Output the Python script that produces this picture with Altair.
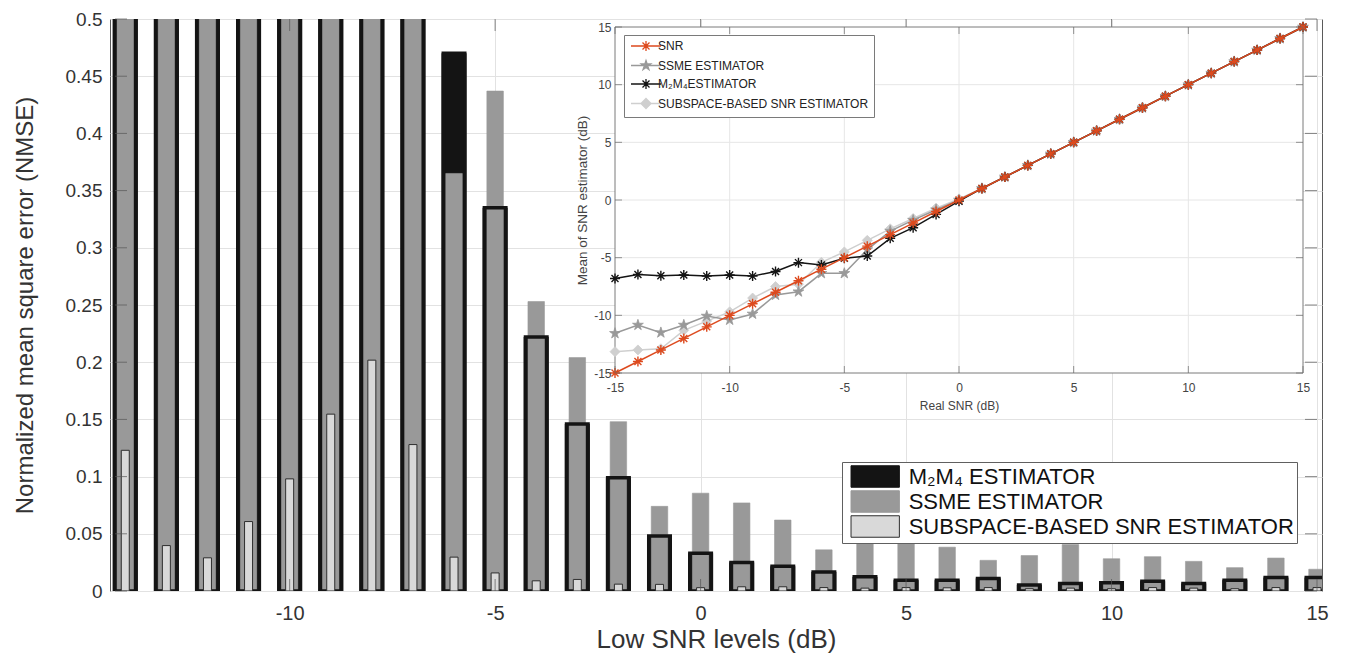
import altair as alt
import pandas as pd

# ---------------- data: main bar chart (NMSE) ----------------
snr_levels = [-14, -13, -12, -11, -10, -9, -8, -7, -6, -5, -4, -3, -2, -1, 0,
              1, 2, 3, 4, 5, 6, 7, 8, 9, 10, 11, 12, 13, 14, 15]
# values at -14..-7 exceed the 0.5 axis limit (clipped in the figure)
m2m4_nmse = [0.6, 0.6, 0.6, 0.6, 0.6, 0.6, 0.6, 0.6, 0.47, 0.335, 0.222, 0.146,
             0.099, 0.048, 0.033, 0.025, 0.0216, 0.0167, 0.0124, 0.0095, 0.0095,
             0.011, 0.0052, 0.0066, 0.0072, 0.0086, 0.0066, 0.0095, 0.0118, 0.0118]
ssme_nmse = [0.6, 0.6, 0.6, 0.6, 0.6, 0.6, 0.6, 0.6, 0.365, 0.437, 0.253, 0.204,
             0.148, 0.074, 0.0855, 0.077, 0.062, 0.036, 0.0417, 0.0426, 0.0383,
             0.0268, 0.031, 0.0406, 0.0282, 0.030, 0.0259, 0.0204, 0.0288, 0.019]
subspace_nmse = [0.123, 0.0397, 0.029, 0.0607, 0.098, 0.1546, 0.2018, 0.128, 0.0296,
                 0.0158, 0.0089, 0.0101, 0.006, 0.0058, 0.0029, 0.0037, 0.0037, 0.003,
                 0.0025, 0.003, 0.0028, 0.003, 0.002, 0.0025, 0.002, 0.003, 0.0025,
                 0.002, 0.003, 0.003]
series_names = ["M₂M₄ ESTIMATOR", "SSME ESTIMATOR", "SUBSPACE-BASED SNR ESTIMATOR"]
main_xticks = [-10, -5, 0, 5, 10, 15]
main_yticks = [0, 0.05, 0.1, 0.15, 0.2, 0.25, 0.3, 0.35, 0.4, 0.45, 0.5]

# ---------------- data: inset (mean of estimator) ----------------
real_snr = [-15, -14, -13, -12, -11, -10, -9, -8, -7, -6, -5, -4, -3, -2, -1, 0,
            1, 2, 3, 4, 5, 6, 7, 8, 9, 10, 11, 12, 13, 14, 15]
snr_mean = [-15, -14, -13, -12, -11, -10, -9, -8, -7, -6, -5, -4, -3, -2, -1, 0,
            1, 2, 3, 4, 5, 6, 7, 8, 9, 10, 11, 12, 13, 14, 15]
ssme_mean = [-11.56, -10.84, -11.5, -10.84, -10.06, -10.4, -9.88, -8.24, -7.95, -6.36,
             -6.36, -4.3, -2.7, -1.75, -0.85, 0, 1, 2, 3, 4, 5, 6, 7, 8, 9, 10, 11,
             12, 13, 14, 15]
m2m4_mean = [-6.8, -6.45, -6.56, -6.5, -6.6, -6.5, -6.6, -6.2, -5.43, -5.64, -5.06,
             -4.86, -3.32, -2.4, -1.25, -0.1, 1, 2, 3, 4, 5, 6, 7, 8, 9, 10, 11, 12,
             13, 14, 15]
subspace_mean = [-13.15, -13.0, -12.9, -11.3, -10.5, -9.7, -8.5, -7.5, -7.3, -5.4,
                 -4.5, -3.5, -2.5, -1.6, -0.7, 0.1, 1, 2, 3, 4, 5, 6, 7, 8, 9, 10, 11,
                 12, 13, 14, 15]
inset_names = ["SNR", "SSME ESTIMATOR", "M₂M₄ESTIMATOR", "SUBSPACE-BASED SNR ESTIMATOR"]
inset_ticks = [-15, -10, -5, 0, 5, 10, 15]
inset_inner = [-10, -5, 0, 5, 10]

# ---------------- styles / layout ----------------
FONT = "Liberation Sans"
W, H = 1212, 572
XMIN, XMAX = -14.25, 15.0
IN_LO, IN_HI = -15, 15
IN_X_RANGE = [505, 1193]
IN_Y_RANGE = [354, 8]

C_M2M4 = "#141414"
C_SSME = "#999999"
C_SUB = "#d9d9d9"
C_SUB_EDGE = "#2e2e2e"
C_RED = "#dd4a1e"
C_LGRAY = "#cfcfcf"

RECT_PATH = "M-2.25,-1L2.25,-1L2.25,1L-2.25,1Z"
AST = "M-1,0L1,0M0,-1L0,1M-0.7,-0.7L0.7,0.7M-0.7,0.7L0.7,-0.7"
STAR = ("M0,-1L0.2245,-0.309L0.951,-0.309L0.363,0.118L0.588,0.809L0,0.382"
        "L-0.588,0.809L-0.363,0.118L-0.951,-0.309L-0.2245,-0.309Z")
DIAM = "M0,-1L1,0L0,1L-1,0Z"
LEG_AST = "M-3,0L3,0" + AST
LEG_STAR = "M-3,0L3,0" + STAR
LEG_DIAM = "M-3,0L3,0" + DIAM

# ---------------- main chart ----------------
bar_df = pd.DataFrame({
    "snr": snr_levels * 3,
    "nmse": m2m4_nmse + ssme_nmse + subspace_nmse,
    "series": [series_names[0]] * len(snr_levels) + [series_names[1]] * len(snr_levels)
              + [series_names[2]] * len(snr_levels),
})

mx_scale = alt.Scale(domain=[XMIN, XMAX], nice=False, zero=False)
my_scale = alt.Scale(domain=[0, 0.5], nice=False, zero=False)

mx_axis = alt.Axis(orient="bottom", values=main_xticks, labelExpr="'' + datum.value",
                   grid=True, gridColor="#e2e2e2", ticks=False, domain=False,
                   labelFlush=False,
                   labelFont=FONT, labelFontSize=20, labelColor="#333333", labelPadding=12,
                   title="Low SNR levels (dB)", titleFont=FONT, titleFontSize=26,
                   titleFontWeight="normal", titleColor="#333333", titlePadding=3)
my_axis = alt.Axis(orient="left", values=main_yticks, format="~g",
                   grid=True, gridColor="#e2e2e2", ticks=False, domain=False,
                   labelFont=FONT, labelFontSize=19, labelColor="#333333", labelPadding=8,
                   title="Normalized mean square error (NMSE)", titleFont=FONT,
                   titleFontSize=24, titleFontWeight="normal", titleColor="#333333",
                   titlePadding=28)


def mx():
    return alt.X("snr:Q", scale=mx_scale, axis=mx_axis)


def my():
    return alt.Y("nmse:Q", scale=my_scale, axis=my_axis)


main_legend = alt.Legend(title=None, orient="none", legendX=732, legendY=443,
                         direction="vertical", symbolType=RECT_PATH, symbolSize=462,
                         symbolStrokeWidth=1, symbolOffset=18.7, symbolOpacity=1,
                         labelOffset=22, labelFont=FONT, labelFontSize=22,
                         labelColor="#111111", labelLimit=600, rowPadding=-3.5, padding=3,
                         strokeColor="#606060", fillColor="white")
fill_enc = alt.Fill("series:N", scale=alt.Scale(domain=series_names,
                                                 range=[C_M2M4, C_SSME, C_SUB]),
                    legend=main_legend)
stroke_enc = alt.Stroke("series:N", scale=alt.Scale(domain=series_names,
                                                     range=[C_M2M4, C_SSME, C_SUB_EDGE]),
                        legend=main_legend)

base_bars = alt.Chart(bar_df)
m2_fill = base_bars.transform_filter(alt.datum.series == series_names[0]).mark_bar(
    size=25, clip=True, strokeWidth=0).encode(
    x=mx(), y=my(), fill=fill_enc, stroke=stroke_enc)
ssme_bar = base_bars.transform_filter(alt.datum.series == series_names[1]).mark_bar(
    size=16.5, clip=True, strokeWidth=0.6).encode(
    x=mx(), y=my(), fill=fill_enc, stroke=stroke_enc)
m2_outline = base_bars.transform_filter(alt.datum.series == series_names[0]).mark_bar(
    size=21.5, clip=True, fillOpacity=0, stroke=C_M2M4, strokeWidth=3.5).encode(
    x=mx(), y=my())
sub_bar = base_bars.transform_filter(alt.datum.series == series_names[2]).mark_bar(
    size=8, clip=True, strokeWidth=1).encode(
    x=mx(), y=my(), fill=fill_enc, stroke=stroke_enc)

TICK_C = "#555555"
bt_df = pd.DataFrame({"snr": main_xticks, "nmse": [0] * len(main_xticks)})
tt_df = pd.DataFrame({"snr": main_xticks, "nmse": [0.5] * len(main_xticks)})
lt_df = pd.DataFrame({"snr": [XMIN] * len(main_yticks), "nmse": main_yticks})
rt_df = pd.DataFrame({"snr": [XMAX] * len(main_yticks), "nmse": main_yticks})
tk_b = alt.Chart(bt_df).mark_tick(orient="vertical", size=12, thickness=1, yOffset=-6,
                                  color=TICK_C).encode(x=mx(), y=my())
tk_t = alt.Chart(tt_df).mark_tick(orient="vertical", size=12, thickness=1, yOffset=6,
                                  color=TICK_C).encode(x=mx(), y=my())
tk_l = alt.Chart(lt_df).mark_tick(orient="horizontal", size=12, thickness=1, xOffset=6,
                                  color=TICK_C).encode(x=mx(), y=my())
tk_r = alt.Chart(rt_df).mark_tick(orient="horizontal", size=12, thickness=1, xOffset=-6,
                                  color=TICK_C).encode(x=mx(), y=my())

main = alt.layer(m2_fill, ssme_bar, m2_outline, sub_bar, tk_b, tk_t, tk_l, tk_r)

# ---------------- inset chart ----------------
inset_df = pd.DataFrame({
    "real": real_snr * 4,
    "est": snr_mean + ssme_mean + m2m4_mean + subspace_mean,
    "name": [inset_names[0]] * 31 + [inset_names[1]] * 31 + [inset_names[2]] * 31
            + [inset_names[3]] * 31,
})

ix_scale = alt.Scale(domain=[IN_LO, IN_HI], range=IN_X_RANGE, nice=False, zero=False)
iy_scale = alt.Scale(domain=[IN_LO, IN_HI], range=IN_Y_RANGE, nice=False, zero=False)

ix_axis = alt.Axis(orient="bottom", offset=-(H - IN_Y_RANGE[0]), values=inset_ticks,
                   labelExpr="'' + datum.value", grid=False, ticks=False, domain=False,
                   labelFlush=False,
                   labelFont=FONT, labelFontSize=12, labelColor="#444444", labelPadding=9,
                   title="Real SNR (dB)", titleFont=FONT, titleFontSize=12,
                   titleFontWeight="normal", titleColor="#444444", titlePadding=7, zindex=2)
iy_axis = alt.Axis(orient="left", offset=-IN_X_RANGE[0], values=inset_ticks,
                   labelExpr="'' + datum.value", grid=False, ticks=False, domain=False,
                   labelFont=FONT, labelFontSize=12, labelColor="#444444", labelPadding=4,
                   title="Mean of SNR estimator (dB)", titleFont=FONT, titleFontSize=13.5,
                   titleFontWeight="normal", titleColor="#444444", titlePadding=4, zindex=2)


def ix():
    return alt.X("real:Q", scale=ix_scale, axis=ix_axis)


def iy():
    return alt.Y("est:Q", scale=iy_scale, axis=iy_axis)


box_df = pd.DataFrame({"real": [IN_LO], "real2": [IN_HI], "est": [IN_LO], "est2": [IN_HI]})
bg = alt.Chart(box_df).mark_rect(fill="white").encode(
    x=ix(), x2="real2:Q", y=iy(), y2="est2:Q")

vg_df = pd.DataFrame({"real": inset_inner, "est": [IN_LO] * 5, "est2": [IN_HI] * 5})
hg_df = pd.DataFrame({"est": inset_inner, "real": [IN_LO] * 5, "real2": [IN_HI] * 5})
GRID_C = "#e6e6e6"
vgrid = alt.Chart(vg_df).mark_rule(color=GRID_C, strokeWidth=1).encode(
    x=ix(), y=iy(), y2="est2:Q")
hgrid = alt.Chart(hg_df).mark_rule(color=GRID_C, strokeWidth=1).encode(
    x=ix(), x2="real2:Q", y=iy())
box = alt.Chart(box_df).mark_rect(fillOpacity=0, stroke="#7a7a7a", strokeWidth=1).encode(
    x=ix(), x2="real2:Q", y=iy(), y2="est2:Q")

n7 = len(inset_ticks)
ib_df = pd.DataFrame({"real": inset_ticks, "est": [IN_LO] * n7})
it_df = pd.DataFrame({"real": inset_ticks, "est": [IN_HI] * n7})
il_df = pd.DataFrame({"real": [IN_LO] * n7, "est": inset_ticks})
ir_df = pd.DataFrame({"real": [IN_HI] * n7, "est": inset_ticks})
ITC = "#6a6a6a"
itk = [
    alt.Chart(ib_df).mark_tick(orient="vertical", size=7, thickness=1, yOffset=-3.5,
                               color=ITC).encode(x=ix(), y=iy()),
    alt.Chart(it_df).mark_tick(orient="vertical", size=7, thickness=1, yOffset=3.5,
                               color=ITC).encode(x=ix(), y=iy()),
    alt.Chart(il_df).mark_tick(orient="horizontal", size=7, thickness=1, xOffset=3.5,
                               color=ITC).encode(x=ix(), y=iy()),
    alt.Chart(ir_df).mark_tick(orient="horizontal", size=7, thickness=1, xOffset=-3.5,
                               color=ITC).encode(x=ix(), y=iy()),
]

# drawing order: light subspace first, then SSME, M2M4, SNR on top
series_style = [
    (inset_names[3], C_LGRAY, DIAM, 100, True),
    (inset_names[1], C_SSME, STAR, 130, True),
    (inset_names[2], C_M2M4, AST, 100, False),
    (inset_names[0], C_RED, AST, 100, False),
]
line_layers = []
for name, col, shp, sz, filled in series_style:
    src = alt.Chart(inset_df).transform_filter(alt.datum.name == name)
    line_layers.append(src.mark_line(color=col, strokeWidth=1.5).encode(x=ix(), y=iy()))
    if filled:
        pts = src.mark_point(shape=shp, size=sz, filled=True, fill=col, stroke=col,
                             strokeWidth=0.8, opacity=1)
    else:
        pts = src.mark_point(shape=shp, size=sz, filled=False, stroke=col,
                             strokeWidth=1.4, opacity=1)
    line_layers.append(pts.encode(x=ix(), y=iy()))

inset_legend = alt.Legend(title=None, orient="none", legendX=514, legendY=16,
                          direction="vertical", symbolSize=100, symbolStrokeWidth=1.3,
                          symbolOpacity=1, symbolOffset=11, labelOffset=6,
                          labelFont=FONT, labelFontSize=12, labelColor="#222222",
                          labelLimit=400, rowPadding=3.5, padding=5,
                          strokeColor="#7a7a7a", fillColor="white")
leg_layer = alt.Chart(inset_df).mark_point(filled=True, size=100, opacity=0).encode(
    x=ix(), y=iy(),
    fill=alt.Fill("name:N", scale=alt.Scale(domain=inset_names,
                                             range=[C_RED, C_SSME, C_M2M4, C_LGRAY]),
                  legend=inset_legend),
    stroke=alt.Stroke("name:N", scale=alt.Scale(domain=inset_names,
                                                 range=[C_RED, C_SSME, C_M2M4, C_LGRAY]),
                      legend=inset_legend),
    shape=alt.Shape("name:N", scale=alt.Scale(domain=inset_names,
                                               range=[LEG_AST, LEG_STAR, LEG_AST, LEG_DIAM]),
                    legend=inset_legend),
)

inset = alt.layer(bg, vgrid, hgrid, box, *line_layers, *itk, leg_layer)

chart = alt.layer(main, inset).resolve_scale(
    x="independent", y="independent", fill="independent", stroke="independent",
    shape="independent"
).resolve_axis(x="independent", y="independent").resolve_legend(
    fill="independent", stroke="independent", shape="independent"
).properties(
    width=W, height=H,
    autosize=alt.AutoSizeParams(type="none"),
    padding={"left": 102, "top": 11, "right": 16, "bottom": 68},
).configure(font=FONT).configure_view(stroke="#5a5a5a", strokeWidth=1)

chart.save("out.html", embed_options={"renderer": "svg", "actions": False})
